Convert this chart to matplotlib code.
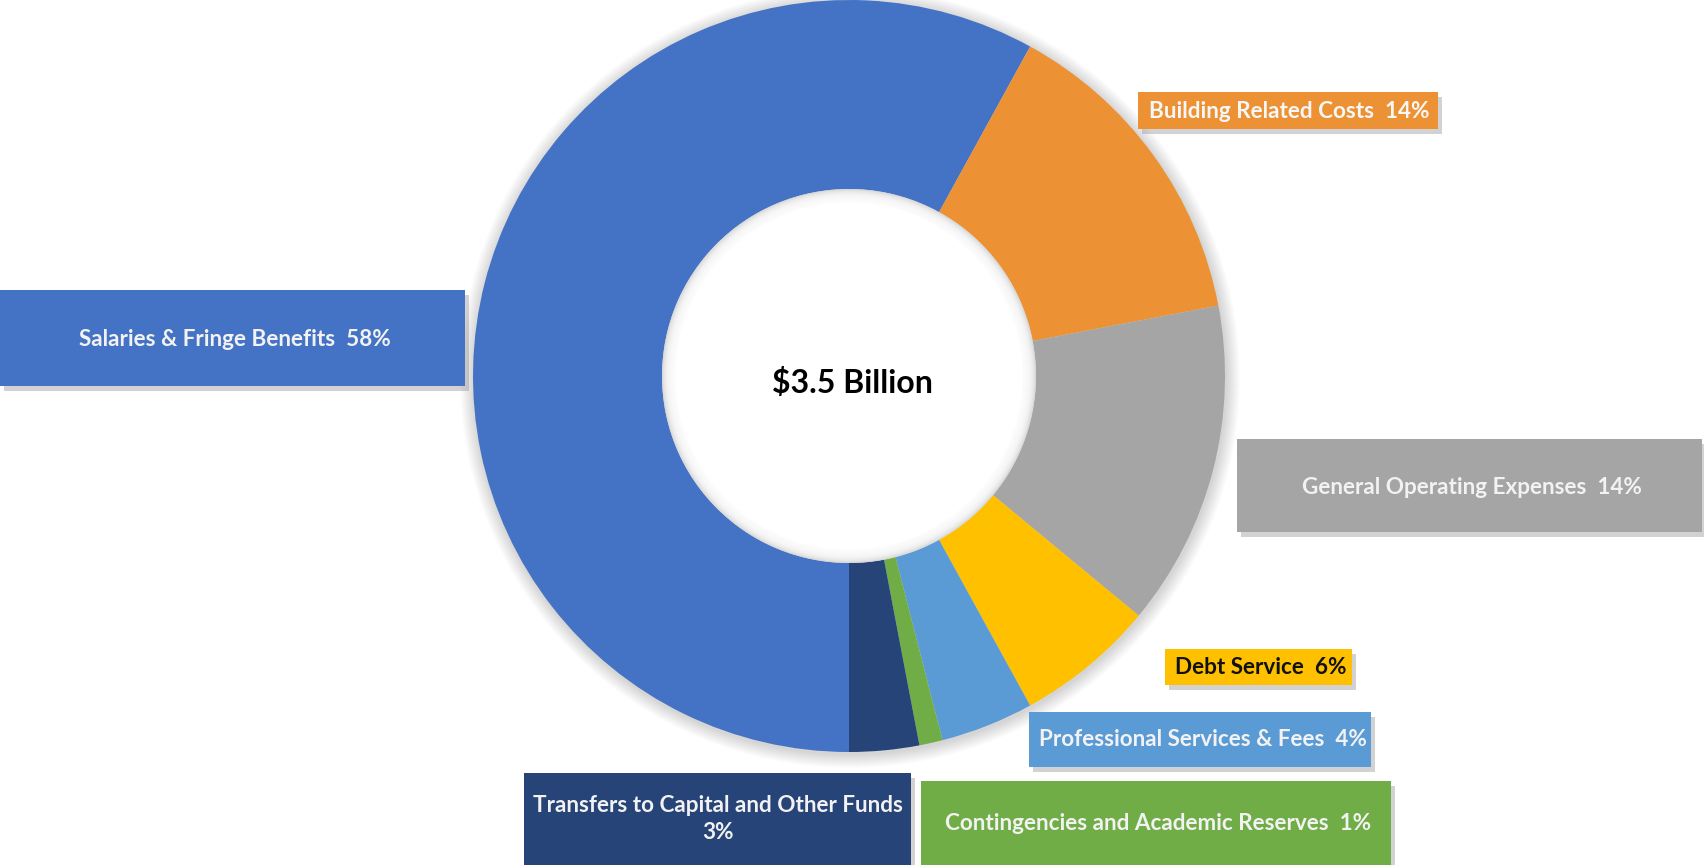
import matplotlib.pyplot as plt
from matplotlib.patches import Rectangle, Circle

# budget breakdown
labels = ['Salaries & Fringe Benefits', 'Building Related Costs', 'General Operating Expenses',
          'Debt Service', 'Professional Services & Fees', 'Contingencies and Academic Reserves',
          'Transfers to Capital and Other Funds']
shares = [58, 14, 14, 6, 4, 1, 3]
colors = ['#4472C4', '#EC9234', '#A5A5A5', '#FFC000', '#5B9BD5', '#70AD47', '#264478']
text_colors = ['#F2F2F2', '#F7F7F7', '#F2F2F2', '#111111', '#F2F2F2', '#F2F2F2', '#F2F2F2']
total_label = '$3.5 Billion'

W, H = 1704, 865
# label boxes in pixels from top-left: (x0, y0, x1, y1), text centre (x, y)
boxes = [
    ((0, 290, 465, 386), (235, 340)),
    ((1138, 92, 1438, 129), (1289, 111)),
    ((1237, 439, 1702, 532), (1472, 488)),
    ((1165, 649, 1352, 685), (1261, 667)),
    ((1029, 712, 1371, 767), (1203, 740)),
    ((921, 781, 1391, 865), (1158, 824)),
    ((524, 773, 911, 865), (718, 819)),
]

cx, cy, R, r_in = 849, H - 376, 376, 187

plt.rcParams['font.family'] = ['Lato', 'DejaVu Sans']
fig = plt.figure(figsize=(W / 100, H / 100), dpi=100)
ax = fig.add_axes([0, 0, 1, 1])

# soft shadow around the ring
for k in range(14, 0, -1):
    ax.add_patch(Circle((cx + 1, cy - 2), R + k, color='#000000', alpha=0.01, lw=0, zorder=0))

ax.pie(shares, colors=colors, startangle=-90, counterclock=False, radius=R, center=(cx, cy),
       wedgeprops=dict(width=R - r_in, edgecolor='none', zorder=1))

# hole with a faint inner shadow along its rim
ax.add_patch(Circle((cx, cy), r_in, color='#d9d9d9', lw=0, zorder=2))
for k in range(1, 13):
    ax.add_patch(Circle((cx, cy), r_in - k, color='white', alpha=0.22, lw=0, zorder=2))
ax.add_patch(Circle((cx, cy), r_in - 13, color='white', lw=0, zorder=2))

ax.text(852, H - 383, total_label, ha='center', va='center', fontsize=23, fontweight='bold',
        color='black', zorder=5)

for i, ((x0, y0, x1, y1), (tx, ty)) in enumerate(boxes):
    ax.add_patch(Rectangle((x0 + 4, H - y1 - 5), x1 - x0, y1 - y0, color='#808080', alpha=0.35,
                           lw=0, zorder=3))
    ax.add_patch(Rectangle((x0, H - y1), x1 - x0, y1 - y0, color=colors[i], lw=0, zorder=4))
    if i == 6:
        txt = f'{labels[i]}\n{shares[i]}%'
    else:
        txt = f'{labels[i]}  {shares[i]}%'
    ax.text(tx, H - ty, txt, ha='center', va='center', fontsize=16.2, fontweight='bold',
            color=text_colors[i], linespacing=1.32, zorder=5)

ax.set_xlim(0, W)
ax.set_ylim(0, H)
ax.set_aspect('equal')
ax.axis('off')
fig.savefig('out.png', dpi=100, facecolor='white')
